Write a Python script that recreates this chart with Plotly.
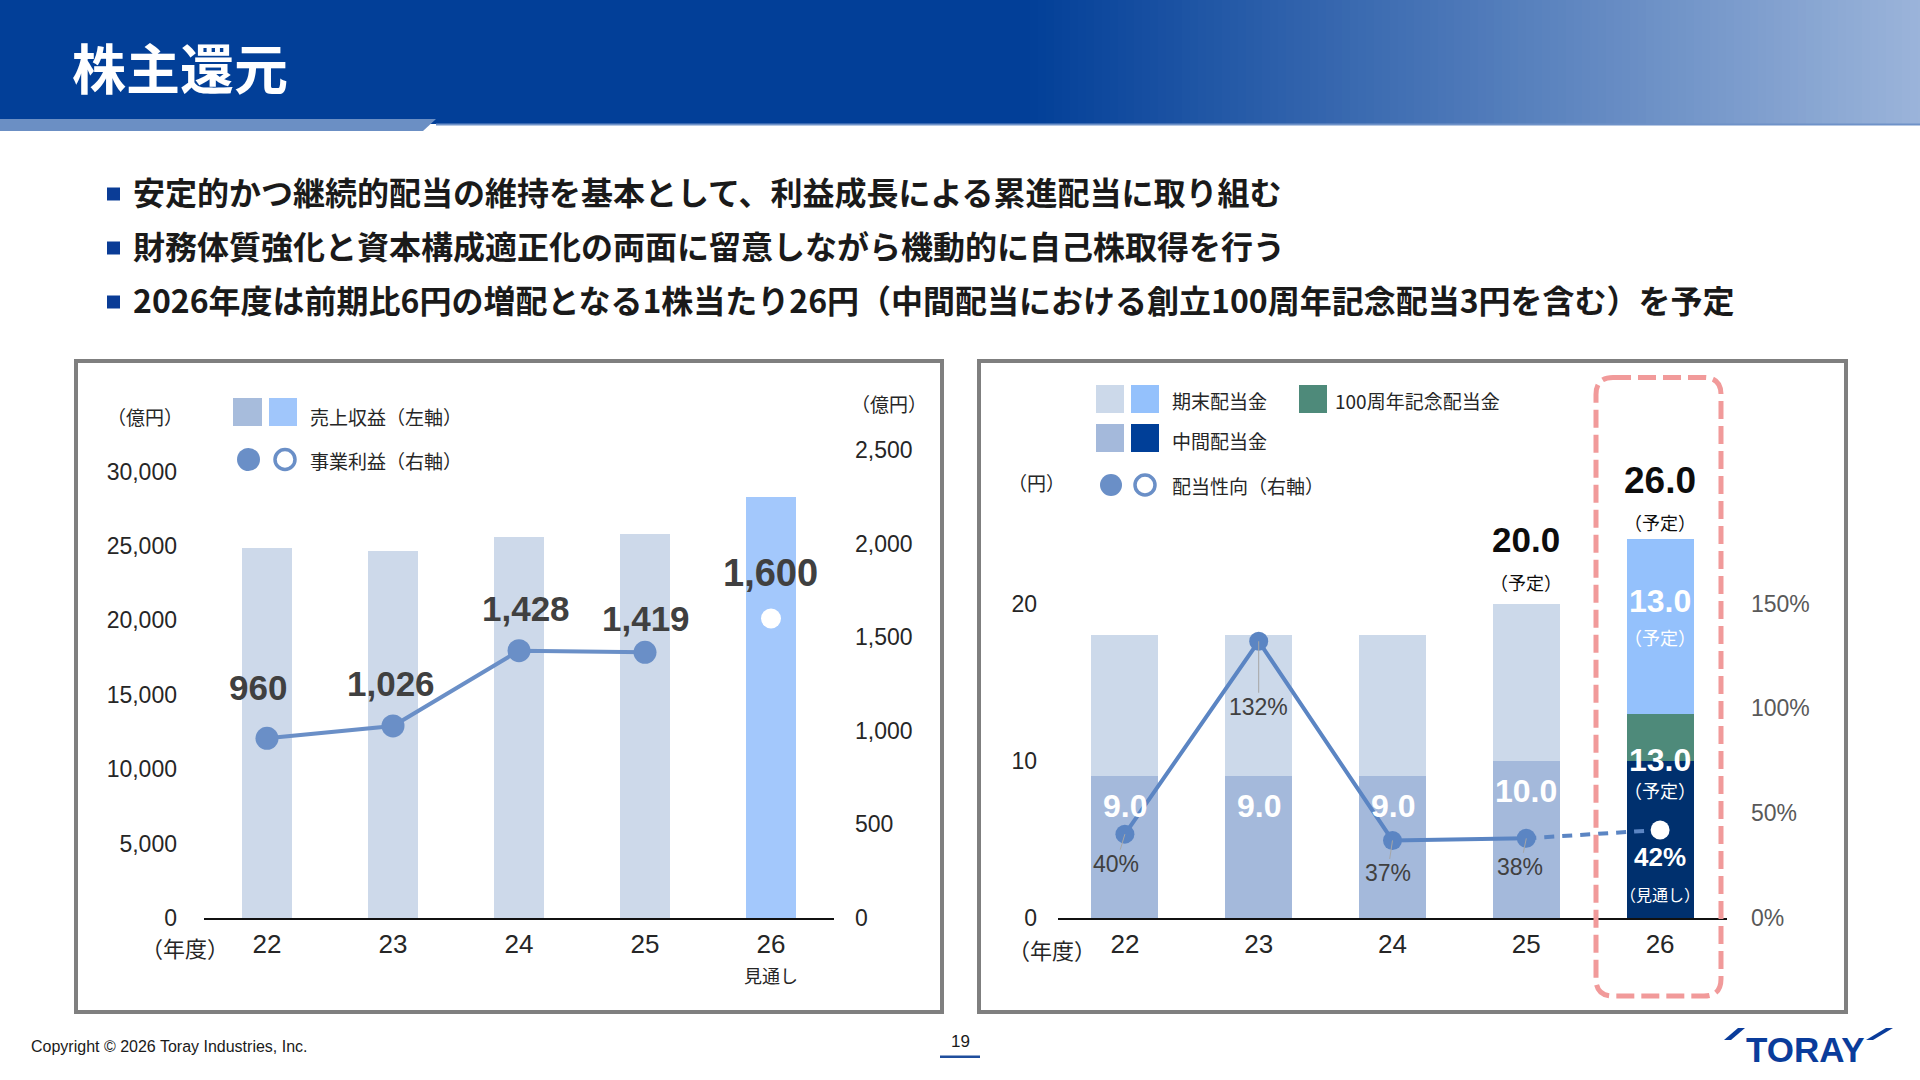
import plotly.graph_objects as go

W, H = 1920, 1080
def X(p): return p / W
def Y(p): return 1 - p / H

JP = "Noto Sans CJK JP"
NUM = "Liberation Sans"

# ---------------- data ----------------
fiscal_years = ["22", "23", "24", "25", "26"]
revenue = [24890, 24650, 25630, 25800, 28300]          # 売上収益（億円）
operating_profit = [960, 1026, 1428, 1419]              # 事業利益（億円）実績
operating_profit_fcst = 1600                            # 26年度 見通し
interim_dividend = [9.0, 9.0, 9.0, 10.0, 10.0]          # 中間配当金（円）
anniversary_dividend = [0.0, 0.0, 0.0, 0.0, 3.0]        # 100周年記念配当金（円）
year_end_dividend = [9.0, 9.0, 9.0, 10.0, 13.0]         # 期末配当金（円）
year_end_bar_drawn = [9.0, 9.0, 9.0, 10.0, 11.1]        # FY26 bar is drawn shortened in the source
payout_ratio = [40, 132, 37, 38]                        # 配当性向（%）
payout_ratio_fcst = 42
rev_ticks = [0, 5000, 10000, 15000, 20000, 25000, 30000]
op_ticks = [0, 500, 1000, 1500, 2000, 2500]
div_ticks = [0, 10, 20]
payout_ticks = [0, 50, 100, 150]

xpos = list(range(len(fiscal_years)))

# ---------------- styles ----------------
C_LINE = "#6a8fc7"
C_LINE2 = "#5b85c3"
TXT = "#262626"
LBL = "#404040"

fig = go.Figure()

# ---- left chart ----
fig.add_trace(go.Bar(x=xpos, y=revenue, width=0.4,
                     marker=dict(color=["#cdd9ea"] * 4 + ["#a3c8fc"], line=dict(width=0)),
                     xaxis="x", yaxis="y", hoverinfo="skip"))
fig.add_trace(go.Scatter(x=xpos[:4], y=operating_profit, mode="lines+markers",
                         line=dict(color=C_LINE, width=4), marker=dict(size=23, color=C_LINE),
                         xaxis="x", yaxis="y2", hoverinfo="skip"))
fig.add_trace(go.Scatter(x=[xpos[4]], y=[operating_profit_fcst], mode="markers",
                         marker=dict(size=20, color="white"), xaxis="x", yaxis="y2", hoverinfo="skip"))

# ---- right chart ----
fig.add_trace(go.Bar(x=xpos, y=interim_dividend, width=0.5,
                     marker=dict(color=["#a4b9db"] * 4 + ["#00306e"], line=dict(width=0)),
                     xaxis="x2", yaxis="y3", hoverinfo="skip"))
fig.add_trace(go.Bar(x=xpos, y=anniversary_dividend, width=0.5,
                     marker=dict(color="#4e8a7a", line=dict(width=0)),
                     xaxis="x2", yaxis="y3", hoverinfo="skip"))
fig.add_trace(go.Bar(x=xpos, y=year_end_bar_drawn, width=0.5,
                     marker=dict(color=["#ccd9ea"] * 4 + ["#94c1fc"], line=dict(width=0)),
                     xaxis="x2", yaxis="y3", hoverinfo="skip"))
fig.add_trace(go.Scatter(x=[xpos[3], xpos[4]], y=[payout_ratio[3], payout_ratio_fcst],
                         mode="lines", line=dict(color=C_LINE2, width=4, dash="10px,8px"),
                         xaxis="x2", yaxis="y4", hoverinfo="skip"))
fig.add_trace(go.Scatter(x=xpos[:4], y=payout_ratio, mode="lines+markers",
                         line=dict(color=C_LINE2, width=4), marker=dict(size=19, color=C_LINE2),
                         xaxis="x2", yaxis="y4", hoverinfo="skip"))
fig.add_trace(go.Scatter(x=[xpos[4]], y=[payout_ratio_fcst], mode="markers",
                         marker=dict(size=19, color="white"), xaxis="x2", yaxis="y4", hoverinfo="skip"))

# ---------------- shapes ----------------
shapes = []
def rect(x0, y0, x1, y1, fill=None, line=None, lw=0, layer="above"):
    d = dict(type="rect", xref="paper", yref="paper", x0=X(x0), x1=X(x1), y0=Y(y1), y1=Y(y0),
             line=dict(width=lw, color=line or "rgba(0,0,0,0)"), layer=layer)
    d["fillcolor"] = fill if fill else "rgba(0,0,0,0)"
    shapes.append(d)

def circle(cx, cy, r, fill, line=None, lw=0):
    shapes.append(dict(type="circle", xref="paper", yref="paper",
                       x0=X(cx - r), x1=X(cx + r), y0=Y(cy + r), y1=Y(cy - r),
                       fillcolor=fill, line=dict(width=lw, color=line or "rgba(0,0,0,0)")))

def poly(pts, fill):
    p = "M " + " L ".join(f"{X(a):.5f},{Y(b):.5f}" for a, b in pts) + " Z"
    shapes.append(dict(type="path", xref="paper", yref="paper", path=p, fillcolor=fill,
                       line=dict(width=0)))

# title bar with gradient
rect(0, 0, 1920, 124, fill="#023f98", layer="below")
c0, c1 = (2, 63, 152), (155, 180, 218)
g0, g1, step = 1030, 1920, 8
xg = g0
while xg < g1:
    t = (xg + step / 2 - g0) / (g1 - g0)
    col = tuple(round(c0[k] + (c1[k] - c0[k]) * t) for k in range(3))
    rect(xg, 0, min(xg + step + 1, g1), 124, fill="rgb(%d,%d,%d)" % col, layer="below")
    xg += step
rect(436, 123.5, 1920, 125.5, fill="#6f92c8", layer="below")
poly([(0, 119), (436, 119), (423, 131), (0, 131)], "#6b8fc4")

# bullets
for yy in (194, 248, 302):
    rect(107, yy - 6.5, 120, yy + 6.5, fill="#0a3c96")

# panels
rect(76, 361, 942, 1012, line="#7f7f7f", lw=4)
rect(979, 361, 1846, 1012, line="#7f7f7f", lw=4)

# left legend
rect(233, 398, 262, 426, fill="#a7bcdc")
rect(269, 398, 297, 426, fill="#a0c6fb")
circle(248.5, 459.5, 11.5, C_LINE)
circle(285, 459.5, 10, "white", C_LINE, 3.5)

# right legend
rect(1096, 385, 1124, 413, fill="#ccd9ea")
rect(1131, 385, 1159, 413, fill="#94c1fc")
rect(1299, 385, 1327, 413, fill="#4e8a7a")
rect(1096, 424, 1124, 452, fill="#a4b9db")
rect(1131, 424, 1159, 452, fill="#003f98")
circle(1111, 485, 11, C_LINE)
circle(1145, 485, 10, "white", C_LINE, 3.5)

# dashed rounded frame around FY26
fx0, fx1, fy0, fy1, r = 1596, 1721, 377.5, 996, 17
def P(a, b): return f"{X(a):.5f},{Y(b):.5f}"
path = (f"M {P(fx0 + r, fy0)} L {P(fx1 - r, fy0)} Q {P(fx1, fy0)} {P(fx1, fy0 + r)} "
        f"L {P(fx1, fy1 - r)} Q {P(fx1, fy1)} {P(fx1 - r, fy1)} L {P(fx0 + r, fy1)} "
        f"Q {P(fx0, fy1)} {P(fx0, fy1 - r)} L {P(fx0, fy0 + r)} Q {P(fx0, fy0)} {P(fx0 + r, fy0)} Z")
shapes.append(dict(type="path", xref="paper", yref="paper", path=path,
                   line=dict(color="#f19a9a", width=5, dash="18px,7px")))

# footer
rect(940, 1055.5, 980, 1058, fill="#1f4e9c")
poly([(1724, 1040), (1731, 1040), (1745, 1028), (1738, 1028)], "#0a3c9b")
poly([(1866, 1040), (1873, 1040), (1893, 1028), (1886, 1028)], "#0a3c9b")

# ---------------- annotations ----------------
anns = []
def ann(text, x, y, size, color=TXT, family=JP, bold=False, xanchor="center", yanchor="middle"):
    anns.append(dict(text=text, x=X(x), y=Y(y), xref="paper", yref="paper", showarrow=False,
                     xanchor=xanchor, yanchor=yanchor,
                     font=dict(size=size, color=color, family=family, weight=700 if bold else 400)))

ann("株主還元", 70, 67, 54, "white", bold=True, xanchor="left")
ann("安定的かつ継続的配当の維持を基本として、利益成長による累進配当に取り組む", 131, 191, 32, "#1a1a1a", bold=True, xanchor="left")
ann("財務体質強化と資本構成適正化の両面に留意しながら機動的に自己株取得を行う", 131, 245, 32, "#1a1a1a", bold=True, xanchor="left")
ann("2026年度は前期比6円の増配となる1株当たり26円（中間配当における創立100周年記念配当3円を含む）を予定", 131, 299, 32, "#1a1a1a", bold=True, xanchor="left")

ann("（億円）", 145, 417, 19)
ann("（億円）", 889, 403, 19)
ann("売上収益（左軸）", 308, 416, 19, xanchor="left")
ann("事業利益（右軸）", 308, 461, 19, xanchor="left")
ann("（年度）", 185, 947, 22)
ann("見通し", 771, 975, 18)

ann("期末配当金", 1170, 400, 19, xanchor="left")
ann("100周年記念配当金", 1333, 400, 19, xanchor="left")
ann("中間配当金", 1170, 440, 19, xanchor="left")
ann("配当性向（右軸）", 1170, 486, 19, xanchor="left")
ann("（円）", 1036, 482, 19)
ann("（年度）", 1052, 949, 22)

ann("Copyright © 2026 Toray Industries, Inc.", 29, 1046, 16, "#1a1a1a", NUM, xanchor="left")
ann("19", 960, 1041, 17, "#1a1a1a", NUM)
ann("TORAY", 1805, 1049, 35, "#0a3c9b", NUM, bold=True)

def dann(text, xv, yv, xref, yref, size, color, bold=True, xshift=0, yshift=0, family=NUM):
    anns.append(dict(text=text, x=xv, y=yv, xref=xref, yref=yref, showarrow=False,
                     xanchor="center", yanchor="middle", xshift=xshift, yshift=yshift,
                     font=dict(size=size, color=color, family=family, weight=700 if bold else 400)))

# left chart value labels
op_label_shift = [(-9, 51), (-2, 42), (7, 42), (1, 34)]
for i, v in enumerate(operating_profit):
    dx, dy = op_label_shift[i]
    dann(f"{v:,}", xpos[i], v, "x", "y2", 35, LBL, xshift=dx, yshift=dy)
dann(f"{operating_profit_fcst:,}", xpos[4], operating_profit_fcst, "x", "y2", 38, LBL, xshift=-1, yshift=45)

# right chart bar labels
for i in range(4):
    dann(f"{interim_dividend[i]:.1f}", xpos[i], interim_dividend[i], "x2", "y3", 32, "white", yshift=-30)
interim26 = interim_dividend[4] + anniversary_dividend[4]
dann(f"{interim26:.1f}", xpos[4], interim26, "x2", "y3", 32, "white", yshift=-46)
dann("（予定）", xpos[4], interim26, "x2", "y3", 18, "white", bold=False, yshift=-76, family=JP)
mid26 = interim26 + year_end_bar_drawn[4] / 2
dann(f"{year_end_dividend[4]:.1f}", xpos[4], mid26, "x2", "y3", 32, "white", yshift=25)
dann("（予定）", xpos[4], mid26, "x2", "y3", 18, "white", bold=False, yshift=-11, family=JP)

for i, big, dy1 in ((3, 35, 64), (4, 37, 59)):
    total = interim_dividend[i] + anniversary_dividend[i] + year_end_dividend[i]
    drawn_top = interim_dividend[i] + anniversary_dividend[i] + year_end_bar_drawn[i]
    dann(f"{total:.1f}", xpos[i], drawn_top, "x2", "y3", big, "#0d0d0d", yshift=dy1)
    dann("（予定）", xpos[i], drawn_top, "x2", "y3", 18, "#0d0d0d", bold=False, yshift=dy1 - 42, family=JP)

# payout ratio labels with leader lines
pr_offsets = [(-9, 30), (0, 66), (-5, 33), (-6, 29)]
for i, v in enumerate(payout_ratio):
    ax, ay = pr_offsets[i]
    anns.append(dict(text=f"{v}%", x=xpos[i], y=v, xref="x2", yref="y4",
                     showarrow=True, arrowhead=0, arrowwidth=1, arrowcolor="#a6a6a6",
                     ax=ax, ay=ay, standoff=0,
                     font=dict(size=23, color=LBL, family=NUM)))
dann(f"{payout_ratio_fcst}%", xpos[4], payout_ratio_fcst, "x2", "y4", 26, "white", yshift=-27)
dann("（見通し）", xpos[4], payout_ratio_fcst, "x2", "y4", 16, "white", bold=False, yshift=-64, family=JP)

# ---------------- layout ----------------
tickf = dict(family=NUM, size=23, color=TXT)
xtickf = dict(family=NUM, size=26, color=TXT)
common_y = dict(showgrid=False, zeroline=False, showline=False, ticks="", fixedrange=True,
                automargin=False)
common_x = dict(type="linear", range=[-0.5, 4.5], tickvals=xpos, ticktext=fiscal_years,
                showline=True, linecolor="#111111", linewidth=2, ticks="", showgrid=False,
                zeroline=False, tickfont=xtickf, ticklabelstandoff=2, fixedrange=True,
                automargin=False)
bottom, top = Y(918), Y(448)

fig.update_layout(
    width=W, height=H, autosize=False,
    margin=dict(l=0, r=0, t=0, b=0, pad=0, autoexpand=False),
    paper_bgcolor="white", plot_bgcolor="rgba(0,0,0,0)",
    showlegend=False, barmode="stack", bargap=0,
    xaxis=dict(domain=[X(204), X(834)], anchor="y", **common_x),
    yaxis=dict(domain=[bottom, top], anchor="x", range=[0, 31579], tickvals=rev_ticks,
               ticktext=[f"{v:,}" for v in rev_ticks], tickfont=tickf, ticklabelstandoff=26,
               **common_y),
    yaxis2=dict(overlaying="y", side="right", anchor="x", range=[0, 2510.7], tickvals=op_ticks,
                ticktext=[f"{v:,}" for v in op_ticks], tickfont=tickf, ticklabelstandoff=20,
                **common_y),
    xaxis2=dict(domain=[X(1058), X(1727)], anchor="y3", **common_x),
    yaxis3=dict(domain=[bottom, top], anchor="x2", range=[0, 29.89], tickvals=div_ticks,
                ticktext=[str(v) for v in div_ticks], tickfont=tickf, ticklabelstandoff=20,
                **common_y),
    yaxis4=dict(overlaying="y3", side="right", anchor="x2", range=[0, 224.2], tickvals=payout_ticks,
                ticktext=[f"{v}%" for v in payout_ticks],
                tickfont=dict(family=NUM, size=23, color="#595959"),
                ticklabelstandoff=23, **common_y),
    shapes=shapes, annotations=anns,
)

fig.write_html("out.html", config={"displayModeBar": False})
